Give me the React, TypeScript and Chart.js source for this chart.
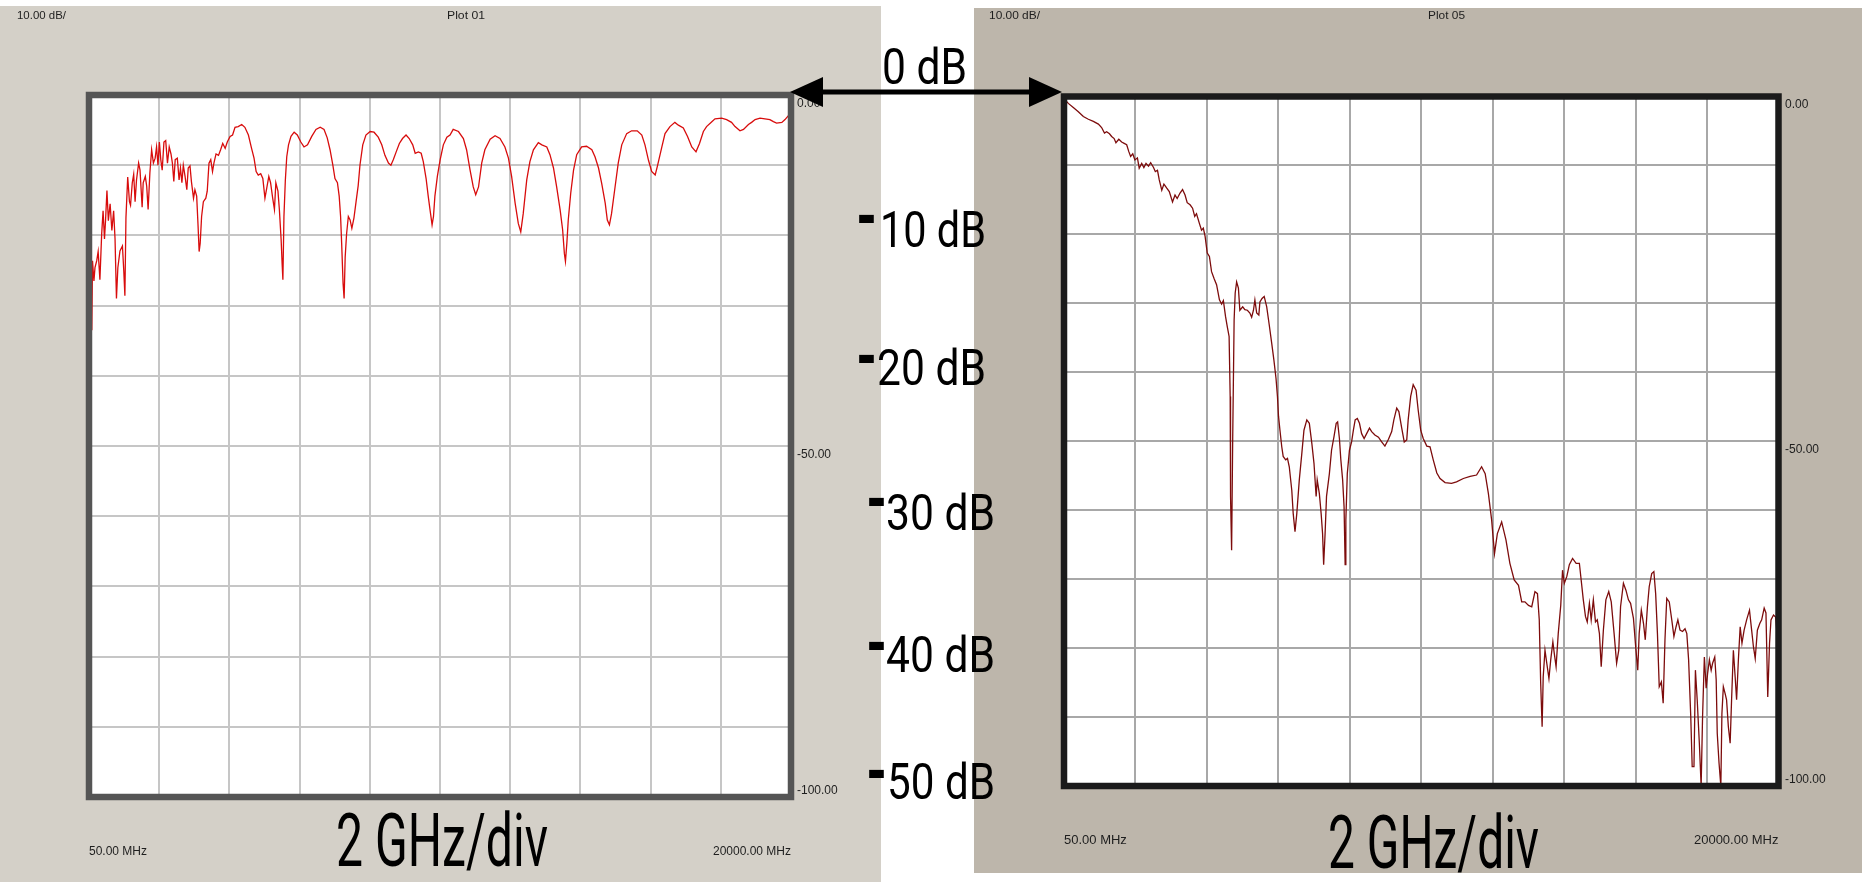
import React, { useEffect, useRef } from 'react';
import { Chart, registerables } from 'chart.js';

Chart.register(...registerables);

// ---------- data ----------
const X_GRID_GHZ = [0.05, 2.045, 4.04, 6.035, 8.03, 10.025, 12.02, 14.015, 16.01, 18.005, 20];
const X_END_LABELS = ['50.00 MHz', '20000.00 MHz'];
const Y_LABEL_VALUES = [0, -50, -100];
const Y_LABEL_TEXT = ['0.00', '-50.00', '-100.00'];
const HEADER_TEXT = ['10.00 dB/', 'Plot 01', 'Plot 05'];
const AXIS_NOTE = '2 GHz/div';
const ZERO_LABEL = '0 dB';
const SIDE_LABELS = ['10 dB', '20 dB', '30 dB', '40 dB', '50 dB'];

// Plot 01: [frequency GHz, dB]
const PLOT01_TRACE: number[][] = [
  [0.05,-22.3],[0.10,-30.6],[0.13,-33.5],[0.15,-23.6],[0.19,-26.5],[0.22,-24.6],[0.27,-23.6],[0.31,-22.3],[0.36,-26.3],[0.41,-19.8],
  [0.45,-16.5],[0.49,-20.5],[0.52,-17.9],[0.56,-13.6],[0.60,-17.9],[0.65,-15.5],[0.70,-19.3],[0.75,-16.5],[0.79,-20.5],[0.83,-29.0],
  [0.87,-24.6],[0.93,-22.2],[1.00,-21.5],[1.04,-25.2],[1.07,-28.6],[1.10,-17.5],[1.15,-11.7],[1.20,-15.2],[1.23,-15.7],[1.28,-12.5],
  [1.32,-11.3],[1.36,-15.2],[1.40,-12.1],[1.46,-9.7],[1.50,-10.7],[1.56,-16.0],[1.59,-12.5],[1.65,-11.6],[1.69,-13.0],[1.73,-16.3],
  [1.78,-11.1],[1.83,-7.8],[1.88,-9.7],[1.93,-9.0],[1.97,-7.4],[2.01,-10.0],[2.05,-6.7],[2.09,-9.2],[2.13,-10.7],[2.18,-6.7],
  [2.23,-6.5],[2.28,-9.7],[2.33,-7.4],[2.38,-8.4],[2.42,-9.7],[2.46,-12.3],[2.50,-9.2],[2.56,-9.0],[2.61,-12.1],[2.65,-10.4],
  [2.69,-12.5],[2.73,-10.0],[2.78,-11.6],[2.83,-13.5],[2.87,-10.4],[2.92,-10.1],[2.96,-12.3],[3.02,-14.7],[3.06,-13.5],[3.11,-14.4],
  [3.15,-18.7],[3.18,-22.3],[3.21,-21.1],[3.25,-17.3],[3.30,-15.2],[3.37,-14.7],[3.41,-13.7],[3.46,-9.7],[3.51,-9.2],[3.56,-10.9],
  [3.60,-9.7],[3.66,-8.4],[3.73,-8.6],[3.79,-7.8],[3.85,-6.9],[3.92,-7.6],[3.98,-6.7],[4.06,-5.9],[4.13,-5.7],[4.20,-4.6],
  [4.29,-4.5],[4.39,-4.2],[4.48,-4.6],[4.58,-5.7],[4.67,-7.6],[4.74,-9.0],[4.80,-10.9],[4.86,-11.4],[4.93,-11.2],[4.99,-11.9],
  [5.05,-14.7],[5.10,-13.3],[5.16,-11.6],[5.21,-12.5],[5.27,-14.7],[5.32,-16.3],[5.36,-12.5],[5.42,-13.7],[5.46,-16.3],[5.51,-20.6],
  [5.54,-24.2],[5.56,-26.3],[5.59,-17.3],[5.63,-12.1],[5.67,-8.8],[5.72,-7.1],[5.79,-5.9],[5.88,-5.3],[5.97,-5.7],[6.07,-6.7],
  [6.16,-7.4],[6.26,-7.1],[6.38,-5.9],[6.50,-4.9],[6.62,-4.6],[6.73,-4.9],[6.82,-6.1],[6.90,-7.8],[6.98,-10.0],[7.04,-11.9],
  [7.11,-12.5],[7.16,-14.4],[7.20,-17.3],[7.23,-21.1],[7.27,-26.8],[7.30,-29.0],[7.33,-23.1],[7.37,-19.8],[7.42,-17.3],[7.47,-17.8],
  [7.52,-19.0],[7.58,-17.5],[7.64,-15.2],[7.70,-12.9],[7.75,-10.0],[7.83,-7.1],[7.92,-5.7],[8.04,-5.2],[8.15,-5.3],[8.27,-6.0],
  [8.37,-7.1],[8.46,-8.6],[8.56,-9.7],[8.63,-10.0],[8.70,-9.2],[8.78,-8.1],[8.87,-6.9],[8.96,-6.2],[9.06,-5.7],[9.15,-6.2],
  [9.25,-7.1],[9.32,-8.3],[9.41,-8.1],[9.49,-8.3],[9.55,-9.5],[9.63,-11.9],[9.69,-14.4],[9.74,-16.3],[9.80,-18.5],[9.84,-17.3],
  [9.88,-14.4],[9.95,-11.6],[10.03,-9.2],[10.12,-7.1],[10.22,-6.0],[10.31,-5.7],[10.40,-4.9],[10.55,-5.2],[10.69,-6.2],[10.78,-7.8],
  [10.88,-10.7],[10.97,-13.1],[11.04,-14.2],[11.12,-13.1],[11.21,-9.7],[11.30,-7.8],[11.45,-6.3],[11.59,-5.8],[11.73,-6.2],[11.87,-7.4],
  [11.97,-9.0],[12.06,-11.6],[12.16,-15.4],[12.25,-18.3],[12.32,-19.5],[12.39,-16.9],[12.49,-12.1],[12.58,-9.5],[12.68,-7.8],[12.82,-6.8],
  [12.92,-7.1],[13.06,-7.4],[13.15,-8.5],[13.25,-10.4],[13.34,-13.1],[13.44,-16.4],[13.51,-19.2],[13.56,-22.6],[13.59,-23.7],[13.63,-21.1],
  [13.67,-17.8],[13.74,-14.0],[13.82,-10.7],[13.91,-8.5],[14.05,-7.4],[14.19,-7.3],[14.34,-7.8],[14.43,-8.8],[14.53,-10.4],[14.62,-12.6],
  [14.72,-15.4],[14.78,-17.8],[14.84,-18.5],[14.90,-16.9],[15.00,-13.1],[15.09,-9.7],[15.19,-7.1],[15.33,-5.5],[15.47,-5.1],[15.63,-5.1],
  [15.76,-5.7],[15.85,-7.1],[15.95,-9.3],[16.04,-10.9],[16.14,-11.4],[16.20,-10.2],[16.33,-7.4],[16.42,-5.5],[16.56,-4.5],[16.70,-3.9],
  [16.80,-4.3],[16.94,-4.7],[17.06,-5.9],[17.18,-7.4],[17.30,-8.1],[17.40,-6.9],[17.51,-5.2],[17.60,-4.5],[17.75,-3.8],[17.84,-3.4],
  [18.03,-3.3],[18.17,-3.5],[18.31,-3.9],[18.41,-4.5],[18.55,-5.1],[18.65,-4.9],[18.79,-4.2],[18.88,-3.9],[18.98,-3.5],[19.12,-3.3],
  [19.26,-3.4],[19.40,-3.5],[19.50,-3.8],[19.59,-4.0],[19.74,-3.9],[19.83,-3.5],[19.95,-2.8],[20.00,-2.3]
];

// Plot 05: [frequency GHz, dB]
const PLOT05_TRACE: number[][] = [
  [0.05,-0.3],[0.17,-1.0],[0.31,-1.6],[0.45,-2.2],[0.59,-2.9],[0.73,-3.3],[0.87,-3.6],[1.01,-4.0],[1.10,-4.5],[1.18,-5.3],
  [1.24,-5.1],[1.32,-5.4],[1.38,-5.8],[1.45,-6.1],[1.50,-6.7],[1.58,-6.2],[1.66,-6.6],[1.73,-6.8],[1.80,-7.0],[1.86,-8.0],
  [1.91,-8.7],[1.97,-8.3],[2.03,-9.2],[2.10,-8.9],[2.15,-10.4],[2.22,-9.7],[2.28,-10.3],[2.34,-9.7],[2.41,-10.1],[2.47,-9.6],
  [2.55,-10.3],[2.60,-10.9],[2.66,-10.7],[2.71,-12.1],[2.78,-13.6],[2.84,-12.7],[2.92,-13.3],[2.99,-13.8],[3.08,-15.3],[3.15,-14.3],
  [3.21,-14.8],[3.29,-14.0],[3.36,-13.5],[3.43,-14.3],[3.49,-15.4],[3.57,-15.7],[3.64,-16.2],[3.70,-17.4],[3.75,-17.0],[3.83,-18.4],
  [3.89,-19.4],[3.94,-19.1],[3.99,-20.3],[4.05,-22.7],[4.11,-23.2],[4.17,-25.4],[4.24,-26.4],[4.31,-27.3],[4.39,-29.5],[4.45,-30.1],
  [4.50,-29.6],[4.56,-31.9],[4.61,-33.4],[4.66,-34.8],[4.69,-43.5],[4.70,-58.0],[4.73,-65.8],[4.76,-49.8],[4.80,-32.4],[4.83,-28.5],
  [4.87,-26.9],[4.92,-27.8],[4.96,-31.0],[5.04,-30.5],[5.10,-30.9],[5.17,-31.0],[5.24,-31.4],[5.29,-32.0],[5.34,-31.0],[5.38,-29.5],
  [5.43,-31.4],[5.49,-31.7],[5.52,-29.8],[5.58,-29.3],[5.64,-29.0],[5.71,-30.5],[5.78,-33.1],[5.85,-35.8],[5.91,-38.2],[5.97,-40.9],
  [6.01,-43.5],[6.04,-46.4],[6.08,-48.4],[6.13,-50.8],[6.17,-52.2],[6.24,-52.7],[6.29,-52.5],[6.34,-53.7],[6.41,-57.1],[6.45,-60.5],
  [6.50,-63.1],[6.55,-60.5],[6.62,-55.6],[6.69,-51.8],[6.75,-48.4],[6.83,-46.9],[6.90,-47.4],[6.97,-50.3],[7.03,-53.2],[7.09,-58.0],
  [7.12,-55.6],[7.18,-57.6],[7.23,-60.5],[7.27,-63.4],[7.30,-67.9],[7.34,-63.4],[7.38,-58.0],[7.46,-54.7],[7.52,-51.3],[7.59,-49.3],
  [7.65,-47.4],[7.69,-47.2],[7.74,-49.6],[7.78,-52.7],[7.83,-55.6],[7.87,-59.5],[7.90,-67.9],[7.92,-61.4],[7.96,-54.7],[8.02,-51.3],
  [8.08,-50.1],[8.13,-48.4],[8.18,-46.9],[8.24,-46.7],[8.30,-47.4],[8.36,-48.9],[8.43,-49.6],[8.50,-48.9],[8.58,-48.1],[8.64,-48.6],
  [8.73,-49.1],[8.83,-49.4],[8.92,-50.1],[9.01,-50.7],[9.11,-49.7],[9.20,-48.6],[9.26,-46.9],[9.34,-45.2],[9.40,-45.7],[9.48,-48.1],
  [9.55,-50.1],[9.62,-49.8],[9.66,-46.9],[9.73,-43.5],[9.80,-41.8],[9.88,-42.6],[9.94,-45.5],[10.01,-48.4],[10.08,-49.6],[10.18,-50.7],
  [10.27,-50.8],[10.36,-52.7],[10.46,-54.6],[10.55,-55.4],[10.69,-56.0],[10.87,-56.1],[11.01,-55.9],[11.20,-55.4],[11.39,-55.1],[11.57,-54.9],
  [11.71,-53.7],[11.81,-54.7],[11.90,-57.6],[11.99,-61.4],[12.07,-66.3],[12.15,-63.4],[12.27,-61.7],[12.39,-64.3],[12.50,-67.7],[12.62,-70.1],
  [12.74,-70.9],[12.83,-73.3],[12.92,-73.3],[13.02,-73.8],[13.11,-74.0],[13.20,-71.8],[13.27,-72.1],[13.32,-75.9],[13.36,-85.1],[13.40,-91.4],
  [13.43,-84.2],[13.48,-80.3],[13.53,-82.2],[13.59,-84.4],[13.64,-81.7],[13.70,-79.1],[13.74,-80.8],[13.79,-82.7],[13.85,-77.9],[13.92,-73.8],
  [13.97,-68.7],[14.02,-70.6],[14.09,-69.6],[14.16,-67.9],[14.25,-67.0],[14.35,-67.7],[14.44,-67.7],[14.50,-70.6],[14.55,-73.0],[14.61,-75.4],
  [14.66,-76.2],[14.72,-73.5],[14.77,-75.9],[14.83,-73.0],[14.89,-76.2],[14.94,-75.9],[15.00,-77.9],[15.05,-82.7],[15.11,-77.4],[15.18,-73.0],
  [15.26,-71.8],[15.33,-73.3],[15.41,-77.9],[15.48,-82.2],[15.54,-80.3],[15.59,-74.0],[15.67,-70.6],[15.74,-71.6],[15.81,-73.0],[15.87,-73.5],
  [15.95,-75.7],[16.02,-80.3],[16.07,-83.2],[16.11,-77.9],[16.17,-74.5],[16.23,-76.4],[16.28,-78.8],[16.34,-74.0],[16.39,-71.1],[16.46,-69.2],
  [16.52,-68.9],[16.57,-72.1],[16.62,-77.9],[16.67,-85.6],[16.73,-84.9],[16.78,-88.0],[16.83,-78.8],[16.88,-72.8],[16.95,-73.3],[17.02,-75.9],
  [17.08,-78.3],[17.14,-76.9],[17.19,-75.9],[17.25,-77.4],[17.32,-77.6],[17.39,-77.2],[17.44,-77.9],[17.49,-81.7],[17.55,-89.9],[17.59,-97.2],
  [17.64,-97.2],[17.68,-83.2],[17.73,-87.5],[17.79,-93.8],[17.84,-100],[17.88,-89.9],[17.93,-81.3],[17.98,-85.8],[18.02,-83.7],[18.07,-81.7],
  [18.12,-83.2],[18.16,-82.2],[18.22,-81.3],[18.26,-84.6],[18.29,-92.4],[18.34,-96.7],[18.39,-100],[18.42,-89.5],[18.46,-85.6],[18.51,-86.6],
  [18.55,-87.5],[18.60,-91.4],[18.65,-93.8],[18.69,-87.5],[18.74,-80.3],[18.79,-84.2],[18.83,-87.5],[18.88,-81.7],[18.93,-76.9],[18.98,-79.3],
  [19.04,-77.4],[19.11,-75.9],[19.19,-74.5],[19.25,-77.4],[19.30,-79.8],[19.35,-81.5],[19.41,-77.4],[19.48,-76.4],[19.53,-75.9],[19.60,-74.2],
  [19.65,-74.9],[19.70,-87.1],[19.75,-79.3],[19.79,-75.9],[19.86,-75.2],[19.92,-75.5],[19.98,-79.1],[20.00,-77.5]
];

// ---------- panel styling ----------
interface PanelStyle {
  left: number; top: number; w: number; h: number; bg: string;
  padLeft: number; padTop: number; yAxisW: number; xAxisH: number;
  xPad: number; yPad: number; xFont: number;
  grid: string; frame: string; trace: string;
}

const LEFT_PANEL: PanelStyle = {
  left: 0, top: 6, w: 881, h: 876, bg: '#d4d0c8',
  padLeft: 89, padTop: 89, yAxisW: 90, xAxisH: 85,
  xPad: 47, yPad: 6, xFont: 12,
  grid: '#c6c6c6', frame: '#555555', trace: '#d80c0c',
};

const RIGHT_PANEL: PanelStyle = {
  left: 974, top: 8, w: 888, h: 865, bg: '#bdb6ab',
  padLeft: 90, padTop: 88.5, yAxisW: 83.5, xAxisH: 87,
  xPad: 47, yPad: 6.5, xFont: 13,
  grid: '#a8a8a8', frame: '#1b1b1b', trace: '#7d0c0c',
};

const SMALL_FONT = '"Liberation Sans", Arial, sans-serif';
const BIG_FONT = 'Roboto, "DejaVu Sans", sans-serif';

const panelFrame = {
  id: 'panelFrame',
  beforeDraw(chart: any) {
    const { ctx, chartArea } = chart;
    ctx.save();
    ctx.fillStyle = '#ffffff';
    ctx.fillRect(chartArea.left, chartArea.top, chartArea.right - chartArea.left, chartArea.bottom - chartArea.top);
    ctx.restore();
  },
  afterDatasetsDraw(chart: any, _args: any, opts: any) {
    const { ctx, chartArea } = chart;
    ctx.save();
    ctx.strokeStyle = opts.color;
    ctx.lineWidth = opts.width;
    ctx.strokeRect(chartArea.left, chartArea.top, chartArea.right - chartArea.left, chartArea.bottom - chartArea.top);
    ctx.restore();
  },
};

function buildConfig(trace: number[][], s: PanelStyle): any {
  return {
    type: 'line',
    data: {
      datasets: [
        {
          data: trace.map((p) => ({ x: p[0], y: p[1] })),
          borderColor: s.trace,
          borderWidth: 1.3,
          pointRadius: 0,
          tension: 0,
          fill: false,
        },
      ],
    },
    options: {
      animation: false,
      responsive: false,
      devicePixelRatio: 1,
      layout: { padding: { left: s.padLeft, top: s.padTop, right: 0, bottom: 0 } },
      plugins: {
        legend: { display: false },
        tooltip: { enabled: false },
        title: { display: false },
        panelFrame: { color: s.frame, width: 6.5 },
      },
      scales: {
        x: {
          type: 'linear',
          position: 'bottom',
          min: X_GRID_GHZ[0],
          max: X_GRID_GHZ[X_GRID_GHZ.length - 1],
          afterBuildTicks: (scale: any) => {
            scale.ticks = X_GRID_GHZ.map((v) => ({ value: v }));
          },
          afterFit: (scale: any) => {
            scale.height = s.xAxisH;
          },
          grid: { color: s.grid, lineWidth: 2, drawTicks: false },
          border: { display: false },
          ticks: {
            autoSkip: false,
            maxRotation: 0,
            minRotation: 0,
            align: 'inner',
            padding: s.xPad,
            color: '#1e1e1e',
            font: { family: SMALL_FONT, size: s.xFont },
            callback: (_v: any, i: number, arr: any[]) =>
              i === 0 ? X_END_LABELS[0] : i === arr.length - 1 ? X_END_LABELS[1] : '',
          },
        },
        y: {
          type: 'linear',
          position: 'right',
          min: -100,
          max: 0,
          afterFit: (scale: any) => {
            scale.width = s.yAxisW;
          },
          grid: { color: s.grid, lineWidth: 2, drawTicks: false },
          border: { display: false },
          ticks: {
            stepSize: 10,
            autoSkip: false,
            padding: s.yPad,
            labelOffset: 1,
            color: '#1e1e1e',
            font: { family: SMALL_FONT, size: 12 },
            callback: (v: any) => {
              const k = Y_LABEL_VALUES.indexOf(Math.round(Number(v)));
              if (k < 0) return '';
              // bottom label sits just above its line, the others just below
              return k === Y_LABEL_VALUES.length - 1 ? [Y_LABEL_TEXT[k], ''] : ['', Y_LABEL_TEXT[k]];
            },
          },
        },
      },
    },
    plugins: [panelFrame],
  };
}

function PanelChart({ trace, s }: { trace: number[][]; s: PanelStyle }) {
  const ref = useRef<HTMLCanvasElement>(null);
  useEffect(() => {
    const chart = new Chart(ref.current as HTMLCanvasElement, buildConfig(trace, s));
    return () => chart.destroy();
  }, []);
  return (
    <canvas
      ref={ref}
      width={s.w}
      height={s.h}
      style={{ position: 'absolute', left: s.left, top: s.top, width: s.w, height: s.h, background: s.bg, display: 'block' }}
    />
  );
}

// annotation placement (page coordinates)
const SIDE_POS = [
  { dx: 858, dy: 221, tx: 880, ty: 247, tl: 106 },
  { dx: 858, dy: 361, tx: 877, ty: 385, tl: 109 },
  { dx: 868, dy: 504, tx: 886, ty: 530, tl: 109 },
  { dx: 868, dy: 648, tx: 886, ty: 672, tl: 109 },
  { dx: 868, dy: 776, tx: 887, ty: 799, tl: 108 },
];

export default function App() {
  useEffect(() => {
    document.body.style.margin = '0';
    document.body.style.background = '#ffffff';
  }, []);

  return (
    <div style={{ position: 'relative', width: 1862, height: 882, background: '#ffffff', overflow: 'hidden' }}>
      <PanelChart trace={PLOT01_TRACE} s={LEFT_PANEL} />
      <PanelChart trace={PLOT05_TRACE} s={RIGHT_PANEL} />
      <svg
        width={1862}
        height={882}
        style={{ position: 'absolute', left: 0, top: 0, pointerEvents: 'none' }}
      >
        {/* panel headers */}
        <text x={17} y={19} fontFamily={SMALL_FONT} fontSize={11} fill="#1e1e1e" textLength={49} lengthAdjust="spacingAndGlyphs">{HEADER_TEXT[0]}</text>
        <text x={447} y={19} fontFamily={SMALL_FONT} fontSize={11} fill="#1e1e1e" textLength={38} lengthAdjust="spacingAndGlyphs">{HEADER_TEXT[1]}</text>
        <text x={989} y={19} fontFamily={SMALL_FONT} fontSize={11} fill="#1e1e1e" textLength={51} lengthAdjust="spacingAndGlyphs">{HEADER_TEXT[0]}</text>
        <text x={1428} y={19} fontFamily={SMALL_FONT} fontSize={11} fill="#1e1e1e" textLength={37} lengthAdjust="spacingAndGlyphs">{HEADER_TEXT[2]}</text>

        {/* frequency span notes */}
        <text x={336} y={866} fontFamily={BIG_FONT} fontSize={75} fill="#000" textLength={212} lengthAdjust="spacingAndGlyphs">{AXIS_NOTE}</text>
        <text x={1328} y={868} fontFamily={BIG_FONT} fontSize={75} fill="#000" textLength={211} lengthAdjust="spacingAndGlyphs">{AXIS_NOTE}</text>

        {/* 0 dB reference arrow */}
        <line x1={816} y1={92} x2={1036} y2={92} stroke="#000" strokeWidth={5} />
        <polygon points="790,92 823,77 823,107" fill="#000" />
        <polygon points="1062,92 1029,77 1029,107" fill="#000" />
        <text x={882} y={84} fontFamily={BIG_FONT} fontSize={50} fill="#000" textLength={85} lengthAdjust="spacingAndGlyphs">{ZERO_LABEL}</text>

        {/* side scale labels */}
        {SIDE_LABELS.map((lbl, i) => {
          const p = SIDE_POS[i];
          return (
            <g key={lbl}>
              <text x={p.dx} y={p.dy + 31} fontFamily={BIG_FONT} fontSize={110} fill="#000" textLength={17} lengthAdjust="spacingAndGlyphs">-</text>
              <text x={p.tx} y={p.ty} fontFamily={BIG_FONT} fontSize={50} fill="#000" textLength={p.tl} lengthAdjust="spacingAndGlyphs">{lbl}</text>
            </g>
          );
        })}
      </svg>
    </div>
  );
}
